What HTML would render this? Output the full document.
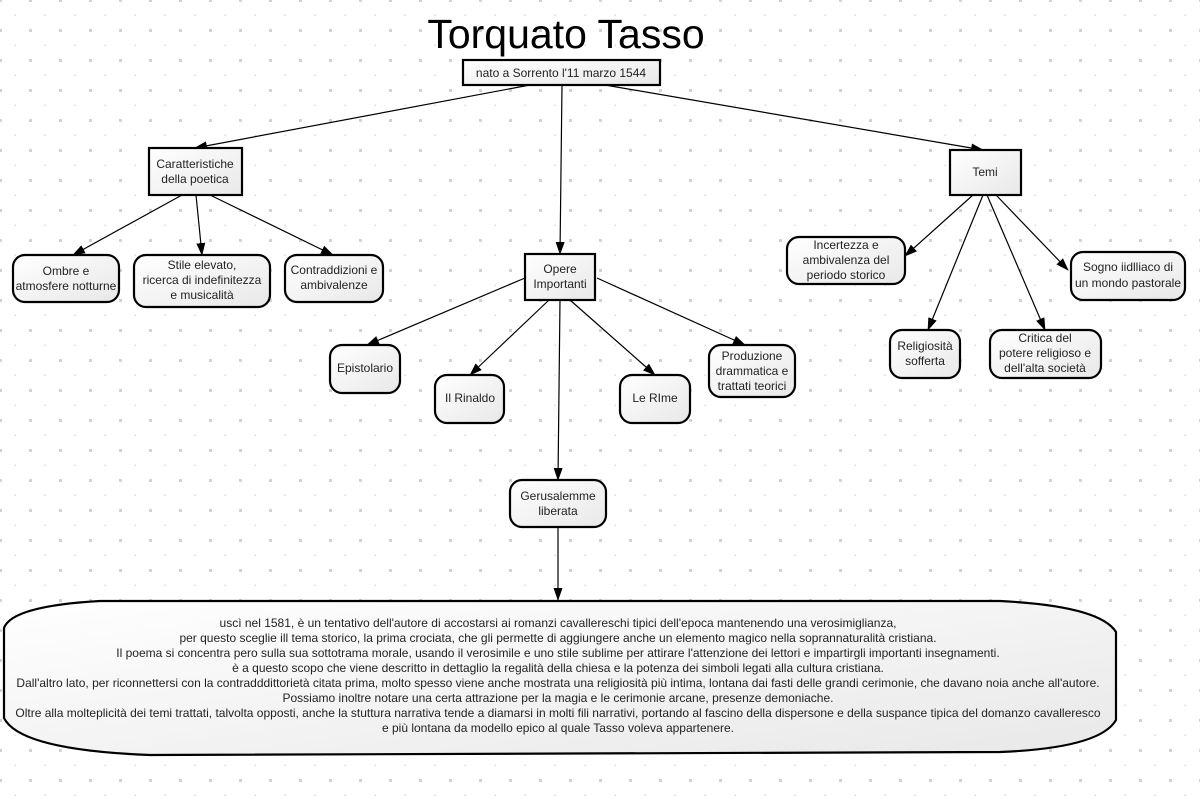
<!DOCTYPE html>
<html><head><meta charset="utf-8"><style>
html,body{margin:0;padding:0;width:1200px;height:800px;overflow:hidden;background:#fff}
svg{display:block}
text{font-family:"Liberation Sans",Arial,sans-serif;font-size:12px;fill:#222}
</style></head><body>
<svg width="1200" height="800" viewBox="0 0 1200 800" xmlns="http://www.w3.org/2000/svg">
<defs>
<pattern id="g" width="30" height="30" patternUnits="userSpaceOnUse">
<rect x="-1" y="-1" width="3" height="3" fill="#d2d2d2"/>
<rect x="29" y="-1" width="3" height="3" fill="#d2d2d2"/>
<rect x="-1" y="29" width="3" height="3" fill="#d2d2d2"/>
<rect x="29" y="29" width="3" height="3" fill="#d2d2d2"/>
<rect x="14.5" y="14.5" width="1.6" height="1.6" fill="#dcdcdc"/>
</pattern>
<linearGradient id="f" x1="0" y1="0" x2="1" y2="1"><stop offset="0" stop-color="#fff"/><stop offset="1" stop-color="#e8e8e8"/></linearGradient>
<marker id="a" markerWidth="13" markerHeight="9" refX="12" refY="4.5" orient="auto" markerUnits="userSpaceOnUse"><path d="M0,0 L13,4.5 L0,9 Z" fill="#000"/></marker>
</defs>
<rect width="1200" height="800" fill="url(#g)"/>
<g stroke="#000" stroke-width="1.2" fill="none" marker-end="url(#a)">
<line x1="530" y1="85" x2="195" y2="148"/>
<line x1="605" y1="85" x2="983" y2="150"/>
<line x1="562" y1="85" x2="560" y2="254"/>
<line x1="182" y1="195" x2="73" y2="255"/>
<line x1="196" y1="195" x2="202" y2="255"/>
<line x1="210" y1="195" x2="333" y2="255"/>
<line x1="525" y1="278" x2="367" y2="345"/>
<line x1="549" y1="300" x2="470" y2="375"/>
<line x1="570" y1="300" x2="655" y2="375"/>
<line x1="597" y1="278" x2="745" y2="345"/>
<line x1="560" y1="300" x2="558" y2="480"/>
<line x1="973" y1="195" x2="905" y2="256"/>
<line x1="983" y1="195" x2="928" y2="330"/>
<line x1="987" y1="195" x2="1045" y2="330"/>
<line x1="996" y1="195" x2="1068" y2="270"/>
<line x1="558" y1="527" x2="558" y2="600"/>
</g>
<text x="566" y="48" text-anchor="middle" style="font-size:41px;fill:#000">Torquato Tasso</text>
<g stroke="#000" stroke-width="2.2" fill="url(#f)">
<rect x="463" y="60" width="197" height="25"/>
<rect x="149" y="148" width="93" height="47"/>
<rect x="950" y="150" width="71" height="45"/>
<rect x="525" y="254" width="70" height="46"/>
<rect x="13" y="255" width="106" height="47" rx="12"/>
<rect x="134" y="255" width="136" height="52" rx="12"/>
<rect x="285" y="255" width="98" height="47" rx="12"/>
<rect x="330" y="345" width="70" height="48" rx="12"/>
<rect x="435" y="375" width="69" height="48" rx="12"/>
<rect x="620" y="375" width="70" height="48" rx="12"/>
<rect x="709" y="345" width="86" height="52" rx="12"/>
<rect x="510" y="480" width="96" height="47" rx="12"/>
<rect x="787" y="237" width="118" height="47" rx="12"/>
<rect x="1071" y="252" width="114" height="48" rx="12"/>
<rect x="890" y="330" width="70" height="48" rx="12"/>
<rect x="990" y="330" width="111" height="48" rx="12"/>
<path d="M100,601 L1000,601 Q1100,606 1116,632 L1116,720 Q1100,748 1000,752 L150,755 Q20,750 4,718 L4,628 Q12,606 100,601 Z"/>
</g>
<g text-anchor="middle">
<text x="561" y="77">nato a Sorrento l'11 marzo 1544</text>
<text x="195" y="168">Caratteristiche</text><text x="195" y="183">della poetica</text>
<text x="985" y="176">Temi</text>
<text x="560" y="273">Opere</text><text x="560" y="288">Importanti</text>
<text x="66" y="275">Ombre e</text><text x="66" y="290">atmosfere notturne</text>
<text x="202" y="269">Stile elevato,</text><text x="202" y="284">ricerca di indefinitezza</text><text x="202" y="299">e musicalità</text>
<text x="334" y="274">Contraddizioni e</text><text x="334" y="289">ambivalenze</text>
<text x="365" y="372">Epistolario</text>
<text x="470" y="402">Il Rinaldo</text>
<text x="655" y="402">Le RIme</text>
<text x="752" y="360">Produzione</text><text x="752" y="375">drammatica e</text><text x="752" y="390">trattati teorici</text>
<text x="558" y="500">Gerusalemme</text><text x="558" y="515">liberata</text>
<text x="846" y="249">Incertezza e</text><text x="846" y="264">ambivalenza del</text><text x="846" y="279">periodo storico</text>
<text x="1128" y="271">Sogno iidlliaco di</text><text x="1128" y="287">un mondo pastorale</text>
<text x="925" y="350">Religiosità</text><text x="925" y="365">sofferta</text>
<text x="1045" y="342">Critica del</text><text x="1045" y="357">potere religioso e</text><text x="1045" y="372">dell'alta società</text>
</g>
<g text-anchor="middle" style="font-size:12px">
<text x="558" y="627">uscì nel 1581, è un tentativo dell'autore di accostarsi ai romanzi cavallereschi tipici dell'epoca mantenendo una verosimiglianza,</text>
<text x="558" y="642">per questo sceglie ill tema storico, la prima crociata, che gli permette di aggiungere anche un elemento magico nella soprannaturalità cristiana.</text>
<text x="558" y="657">Il poema si concentra pero sulla sua sottotrama morale, usando il verosimile e uno stile sublime per attirare l'attenzione dei lettori e impartirgli importanti insegnamenti.</text>
<text x="558" y="672">è a questo scopo che viene descritto in dettaglio la regalità della chiesa e la potenza dei simboli legati alla cultura cristiana.</text>
<text x="558" y="687">Dall'altro lato, per riconnettersi con la contradddittorietà citata prima, molto spesso viene anche mostrata una religiosità più intima, lontana dai fasti delle grandi cerimonie, che davano noia anche all'autore.</text>
<text x="558" y="702">Possiamo inoltre notare una certa attrazione per la magia e le cerimonie arcane, presenze demoniache.</text>
<text x="558" y="717">Oltre alla molteplicità dei temi trattati, talvolta opposti, anche la stuttura narrativa tende a diamarsi in molti fili narrativi, portando al fascino della dispersone e della suspance tipica del domanzo cavalleresco</text>
<text x="558" y="732">e più lontana da modello epico al quale Tasso voleva appartenere.</text>
</g>
</svg>
</body></html>
